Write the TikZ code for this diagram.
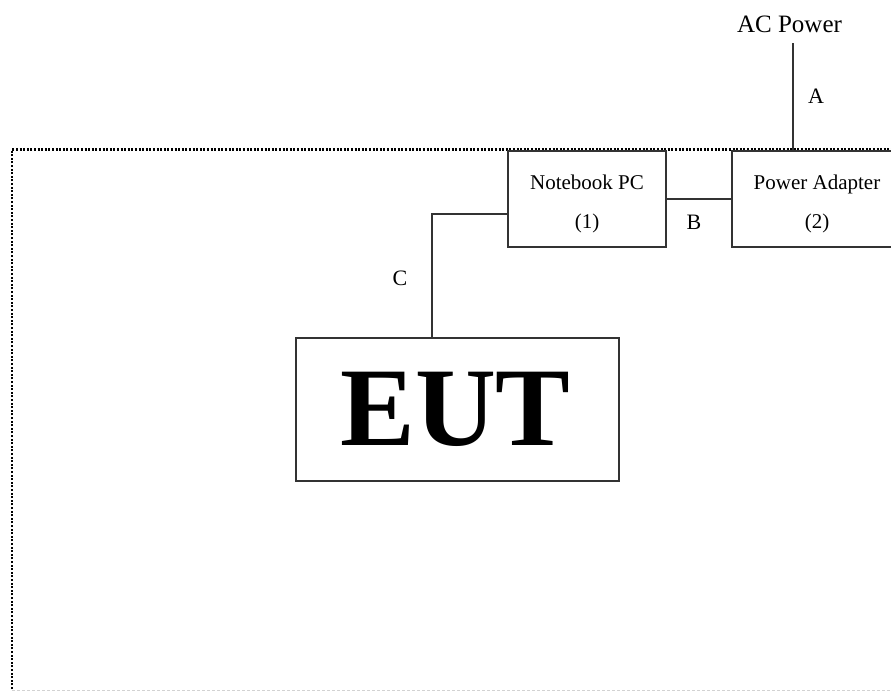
\documentclass[tikz,border=0pt]{standalone}
\usepackage{fontspec}
\setmainfont{Liberation Serif}
\begin{document}
\begin{tikzpicture}[x=1pt,y=-1pt,
  box/.style={draw=black!80,line width=1.2pt,inner sep=0pt,minimum width=#1,minimum height=96pt},
  wire/.style={draw=black!80,line width=1.2pt},
  frame/.style={line width=2.2pt,dash pattern=on 2pt off 1.6pt},
  txt/.style={inner sep=0pt,anchor=base,font=\fontsize{21}{21}\selectfont},
  lbl/.style={inner sep=0pt,anchor=base,font=\fontsize{22}{22}\selectfont}]
\useasboundingbox (0,0) rectangle (891,691);
\begin{scope}
\clip (0,0) rectangle (891,691);
% dotted frame
\draw[frame] (12,689) -- (12,149.5) -- (910,149.5);
\draw[gray!35,line width=0.8pt,dash pattern=on 3pt off 2pt] (12,690) -- (891,690);
% boxes
\node[box=158pt,fill=white] (nb) at (587,199) {};
\node[box=168pt,fill=white] (pa) at (816,199) {};
\node[draw=black!80,line width=1.2pt,minimum width=323pt,minimum height=143pt,inner sep=0pt] (eut) at (457.5,409.5) {};
\end{scope}
% texts
\node[txt] (nbt1) at (587,189) {Notebook PC};
\node[txt] (nbt2) at (587,228) {(1)};
\node[txt] (pat1) at (817,189) {Power Adapter};
\node[txt] (pat2) at (817,228) {(2)};
\node[inner sep=0pt,anchor=base,font=\fontsize{112}{112}\selectfont\bfseries] (eutt) at (455.5,445) {EUT};
\node[inner sep=0pt,anchor=base,font=\fontsize{25}{25}\selectfont] (ac) at (789.5,32) {AC Power};
\coordinate (actop) at (793,43);
% connectors
\draw[wire] (actop) -- (actop |- pa.north);
\draw[wire] (nb.east) -- (pa.west);
\draw[wire] ([yshift=-15pt]nb.west) -| ([xshift=-25.5pt]eut.north);
% labels
\node[lbl] (la) at (816,103) {A};
\node[lbl] (lb) at (694,229) {B};
\node[lbl] (lc) at (400,285) {C};
\end{tikzpicture}
\end{document}
